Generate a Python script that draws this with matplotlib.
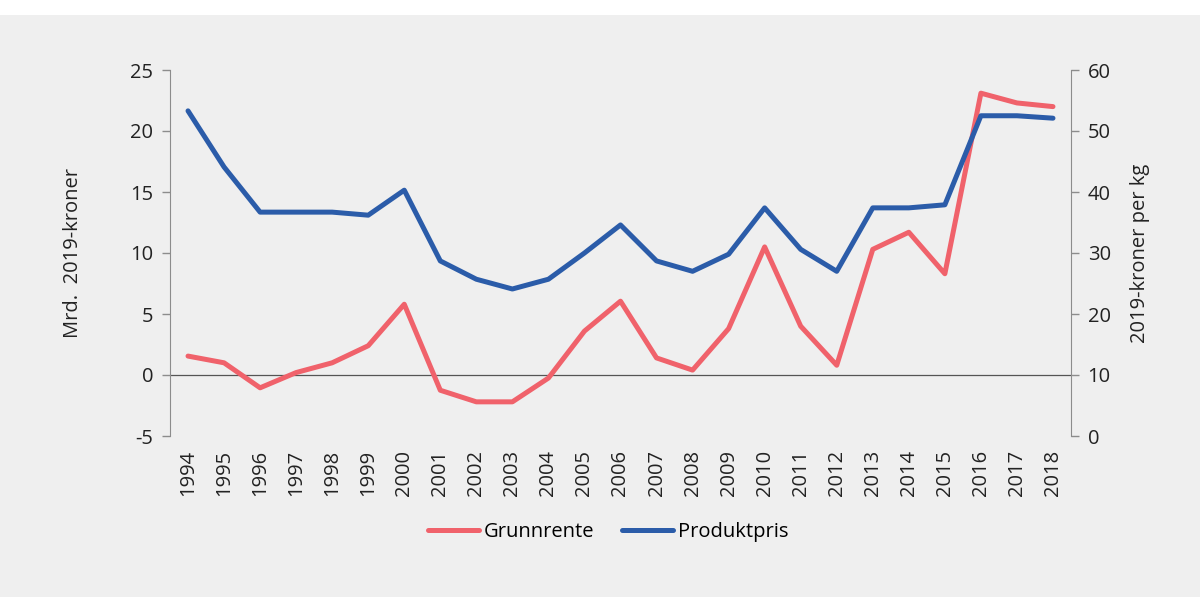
import matplotlib.pyplot as plt
from matplotlib.patches import Rectangle

plt.rcParams['font.family'] = ['Open Sans', 'DejaVu Sans']
plt.rcParams['axes.unicode_minus'] = False

years = [str(y) for y in range(1994, 2019)]
grunnrente = [1.55, 1.0, -1.05, 0.2, 1.0, 2.4, 5.8, -1.25, -2.2, -2.2, -0.25, 3.6, 6.05,
              1.4, 0.4, 3.8, 10.5, 4.0, 0.8, 10.3, 11.7, 8.3, 23.1, 22.3, 22.0]
produktpris = [53.3, 44.1, 36.7, 36.7, 36.7, 36.2, 40.3, 28.7, 25.7, 24.1, 25.7, 30.0, 34.6,
               28.7, 27.0, 29.8, 37.4, 30.6, 27.0, 37.4, 37.4, 37.9, 52.5, 52.5, 52.1]

red = '#f0626b'
blue = '#2b5ca9'
grey_bg = '#efefef'
spine_col = '#8c8c8c'
fs = 14.5

fig = plt.figure(figsize=(12, 6.12), dpi=100)
fig.patch.set_facecolor('white')
fig.patches.append(Rectangle((0, 15 / 612), 1, 582 / 612, transform=fig.transFigure,
                             facecolor=grey_bg, edgecolor='none', zorder=-10))

ax = fig.add_axes([170 / 1200, (612 - 436) / 612, 901 / 1200, 366 / 612])
ax.set_facecolor('none')
ax2 = ax.twinx()
ax2.set_facecolor('none')

x = range(len(years))
l1, = ax.plot(x, grunnrente, color=red, lw=3.6, solid_capstyle='round', label='Grunnrente')
l2, = ax2.plot(x, produktpris, color=blue, lw=3.6, solid_capstyle='round', label='Produktpris')
ax.axhline(0, color='#555555', lw=0.9, zorder=1)

ax.set_xlim(-0.5, len(years) - 0.5)
ax.set_ylim(-5, 25)
ax.set_yticks(range(-5, 26, 5))
ax2.set_ylim(0, 60)
ax2.set_yticks(range(0, 61, 10))

ax.set_xticks(list(x))
ax.set_xticklabels(years, rotation=90)

for a in (ax, ax2):
    for s in ('top', 'bottom'):
        a.spines[s].set_visible(False)
    a.spines['left'].set_visible(a is ax)
    a.spines['right'].set_visible(a is ax2)
    a.tick_params(axis='y', colors=spine_col, labelcolor='#222222', labelsize=fs,
                  length=6, width=1, direction='out', pad=6)
ax.spines['left'].set_color(spine_col)
ax2.spines['right'].set_color(spine_col)
ax.tick_params(axis='x', length=0, labelsize=fs, labelcolor='#222222', pad=10)

ax.set_ylabel('Mrd.  2019-kroner', fontsize=fs, color='#222222', labelpad=34)
ax2.set_ylabel('2019-kroner per kg', fontsize=fs, color='#222222', labelpad=14)

fig.legend([l1, l2], ['Grunnrente', 'Produktpris'], loc='center', bbox_to_anchor=(0.507, 1 - 532 / 612),
           ncol=2, frameon=False, fontsize=fs, handlelength=2.5, columnspacing=1.4,
           handletextpad=0.25)

fig.savefig('out.png', dpi=100)
